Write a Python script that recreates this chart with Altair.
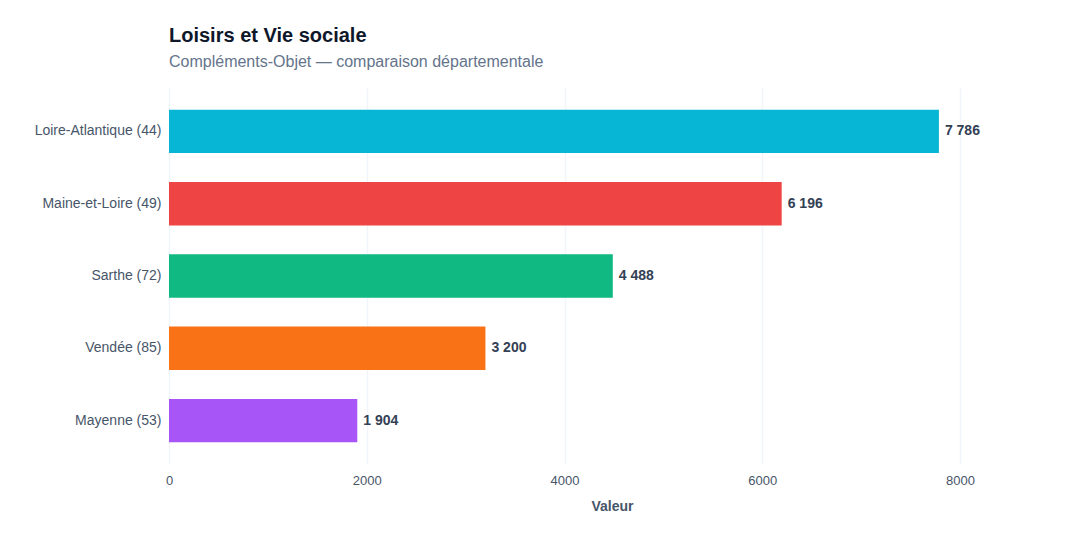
import altair as alt
import pandas as pd

departements = ["Loire-Atlantique (44)", "Maine-et-Loire (49)", "Sarthe (72)", "Vendée (85)", "Mayenne (53)"]
valeurs = [7786, 6196, 4488, 3200, 1904]
couleurs = ["#06b6d4", "#ef4444", "#10b981", "#f97316", "#a855f7"]

df = pd.DataFrame({
    "dep": departements,
    "val": valeurs,
    "label": [f"{v:,}".replace(",", " ") for v in valeurs],
})

FONT = "Liberation Sans"

base = alt.Chart(df).encode(
    y=alt.Y("dep:N", sort=departements, title=None,
            scale=alt.Scale(paddingInner=0.4, paddingOuter=0.3),
            axis=alt.Axis(ticks=False, domain=False, labelPadding=8, labelFontSize=14,
                          labelColor="#475569", labelFont=FONT, grid=False)),
)

bars = base.mark_bar().encode(
    x=alt.X("val:Q", title="Valeur",
            scale=alt.Scale(domain=[0, 8960], nice=False),
            axis=alt.Axis(values=[0, 2000, 4000, 6000, 8000], format="d", ticks=False, domain=False,
                          labelFlush=False,
                          labelFontSize=13, labelColor="#475569", labelFont=FONT, labelPadding=10,
                          titleFontSize=14, titleColor="#475569", titleFont=FONT, titleFontWeight="bold",
                          titlePadding=12, gridColor="#f1f5f9", gridWidth=1.5)),
    color=alt.Color("dep:N", scale=alt.Scale(domain=departements, range=couleurs), legend=None),
)

text = base.mark_text(align="left", baseline="middle", dx=6, fontSize=14, fontWeight="bold",
                      color="#334155", font=FONT).encode(
    x="val:Q",
    text="label:N",
)

chart = (bars + text).properties(
    width=886,
    height=376,
    background="white",
    title=alt.TitleParams(
        "Loisirs et Vie sociale",
        subtitle="Compléments-Objet — comparaison départementale",
        anchor="start", frame="group", font=FONT, fontSize=20, fontWeight="bold", color="#0f172a",
        subtitleFont=FONT, subtitleFontSize=16, subtitleColor="#64748b", subtitlePadding=8, offset=18,
    ),
    autosize=alt.AutoSizeParams(type="none"),
    padding={"left": 169, "top": 88, "right": 25, "bottom": 76},
).configure_view(strokeWidth=0, stroke="transparent")

chart.save("out.html", embed_options={"renderer": "svg", "actions": False})
